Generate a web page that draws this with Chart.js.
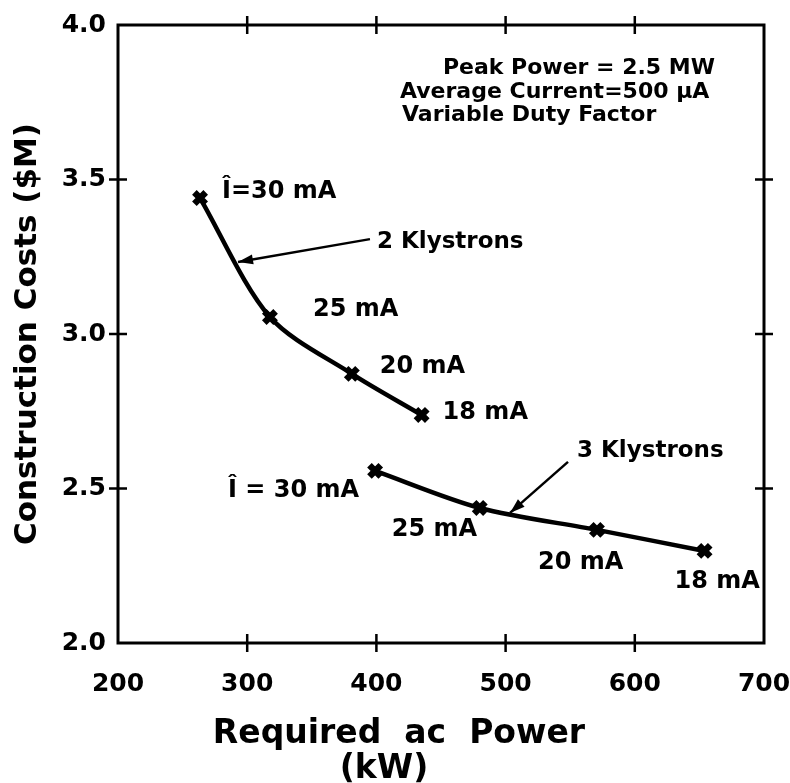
<!DOCTYPE html>
<html>
<head>
<meta charset="utf-8">
<script src="https://cdn.jsdelivr.net/npm/chart.js@4.4.1/dist/chart.umd.min.js"></script>
<style>
  html, body { margin: 0; padding: 0; background: #fff; }
  #wrap { width: 790px; height: 783px; }
</style>
</head>
<body>
<div id="wrap"><canvas id="chart" width="790" height="783"></canvas></div>
<script>
const twoKlyPower = [263.5, 317.6, 381, 435];
const twoKlyCost = [3.44, 3.055, 2.871, 2.738];
const twoKlyLabels = ['\u00CE=30 mA', '25 mA', '20 mA', '18 mA'];

const threeKlyPower = [399, 480, 570.7, 654];
const threeKlyCost = [2.557, 2.437, 2.366, 2.298];
const threeKlyLabels = ['\u00CE = 30 mA', '25 mA', '20 mA', '18 mA'];

const xTicks = [200, 300, 400, 500, 600, 700];
const yTicks = [2.0, 2.5, 3.0, 3.5, 4.0];

const noteLines = ['Peak Power = 2.5 MW', 'Average Current=500 \u00B5A', 'Variable Duty Factor'];
const seriesNames = ['2 Klystrons', '3 Klystrons'];
const xTitle = ['Required  ac  Power', '(kW)'];
const yTitle = 'Construction Costs ($M)';

const FONT = '"DejaVu Sans", sans-serif';

function toPoints(xs, ys) {
    let pts = [];
    for (let i = 0; i < xs.length; i++) pts.push({x: xs[i], y: ys[i]});
    return pts;
}

function drawArrow(c, x1, y1, x2, y2) {
    c.beginPath();
    c.moveTo(x1, y1);
    c.lineTo(x2, y2);
    c.stroke();
    let a = Math.atan2(y2 - y1, x2 - x1);
    let len = 15, w = 5;
    c.beginPath();
    c.moveTo(x2, y2);
    c.lineTo(x2 - len * Math.cos(a) + w * Math.sin(a), y2 - len * Math.sin(a) - w * Math.cos(a));
    c.lineTo(x2 - len * Math.cos(a) - w * Math.sin(a), y2 - len * Math.sin(a) + w * Math.cos(a));
    c.closePath();
    c.fill();
}

// frame with cross ticks, point labels, arrows and notes
const decor = {
    id: 'decor',
    afterDatasetsDraw(chart) {
        const c = chart.ctx, a = chart.chartArea;
        const xs = chart.scales.x, ys = chart.scales.y;
        c.save();
        c.strokeStyle = '#000';
        c.fillStyle = '#000';
        c.lineWidth = 3;
        c.strokeRect(a.left, a.top, a.right - a.left, a.bottom - a.top);

        c.lineWidth = 2.5;
        const tl = 9;
        xTicks.slice(1, -1).forEach(v => {
            let px = xs.getPixelForValue(v);
            c.beginPath();
            c.moveTo(px, a.bottom - tl); c.lineTo(px, a.bottom + tl);
            c.moveTo(px, a.top - tl); c.lineTo(px, a.top + tl);
            c.stroke();
        });
        yTicks.slice(1, -1).forEach(v => {
            let py = ys.getPixelForValue(v);
            c.beginPath();
            c.moveTo(a.left - tl, py); c.lineTo(a.left + tl, py);
            c.moveTo(a.right - tl, py); c.lineTo(a.right + tl, py);
            c.stroke();
        });

        // current labels next to each point
        c.font = 'bold 24px ' + FONT;
        c.textBaseline = 'middle';
        const off1 = [[22, -6], [43, -7], [28, -7], [21, -2]];
        twoKlyLabels.forEach((t, i) => {
            c.textAlign = 'left';
            c.fillText(t, xs.getPixelForValue(twoKlyPower[i]) + off1[i][0], ys.getPixelForValue(twoKlyCost[i]) + off1[i][1]);
        });
        const off2 = [[-16, 20], [-88, 22], [-59, 33], [-30, 31]];
        threeKlyLabels.forEach((t, i) => {
            c.textAlign = i === 0 ? 'right' : 'left';
            c.fillText(t, xs.getPixelForValue(threeKlyPower[i]) + off2[i][0], ys.getPixelForValue(threeKlyCost[i]) + off2[i][1]);
        });

        // series names with arrows
        c.font = 'bold 23px ' + FONT;
        c.textAlign = 'left';
        c.lineWidth = 2.5;
        let t1 = [xs.getPixelForValue(395), ys.getPixelForValue(3.307)];
        c.fillText(seriesNames[0], t1[0] + 7, t1[1] + 3);
        drawArrow(c, t1[0], t1[1], xs.getPixelForValue(292.9), ys.getPixelForValue(3.233));
        let t2 = [xs.getPixelForValue(548.3), ys.getPixelForValue(2.586)];
        c.fillText(seriesNames[1], t2[0] + 9, t2[1] - 11);
        drawArrow(c, t2[0], t2[1], xs.getPixelForValue(503.4), ys.getPixelForValue(2.421));

        // conditions note
        c.font = 'bold 22px ' + FONT;
        c.textBaseline = 'alphabetic';
        c.textAlign = 'right';
        c.fillText(noteLines[0], a.right - 49, a.top + 49);
        c.textAlign = 'left';
        c.fillText(noteLines[1], a.left + 282, a.top + 73);
        c.fillText(noteLines[2], a.left + 284, a.top + 96);

        // x axis title
        c.font = 'bold 33px ' + FONT;
        c.textAlign = 'center';
        c.fillText(xTitle[0], a.left + 281, a.bottom + 100);
        c.fillText(xTitle[1], a.left + 266, a.bottom + 135);
        c.restore();
    }
};

const ctx = document.getElementById('chart');

function lineSet(name, pts) {
    return {
        label: name,
        data: pts,
        borderColor: '#000',
        backgroundColor: '#000',
        borderWidth: 4.5,
        tension: 0.3,
        pointStyle: 'crossRot',
        pointRadius: 8,
        pointBorderWidth: 6.5,
        fill: false
    };
}

let myChart = new Chart(ctx, {
    type: 'line',
    data: {
        datasets: [
            lineSet(seriesNames[0], toPoints(twoKlyPower, twoKlyCost)),
            lineSet(seriesNames[1], toPoints(threeKlyPower, threeKlyCost))
        ]
    },
    options: {
        responsive: false,
        animation: false,
        layout: {padding: {top: 25, right: 26, left: 0, bottom: 0}},
        plugins: {legend: {display: false}, tooltip: {enabled: false}},
        scales: {
            x: {
                type: 'linear',
                min: 200,
                max: 700,
                afterFit: s => { s.height = 140; s.paddingLeft = 0; s.paddingRight = 0; },
                afterBuildTicks: s => { s.ticks = xTicks.map(v => ({value: v})); },
                grid: {display: false, drawTicks: false},
                border: {display: false},
                ticks: {color: '#000', font: {family: FONT, size: 25, weight: 'bold'}, padding: 26, maxRotation: 0}
            },
            y: {
                type: 'linear',
                min: 2,
                max: 4,
                afterFit: s => { s.width = 118; s.paddingTop = 0; s.paddingBottom = 0; },
                afterBuildTicks: s => { s.ticks = yTicks.map(v => ({value: v})); },
                grid: {display: false, drawTicks: false},
                border: {display: false},
                ticks: {color: '#000', font: {family: FONT, size: 25, weight: 'bold'}, padding: 12,
                        callback: v => Number(v).toFixed(1)},
                title: {display: true, text: yTitle, color: '#000',
                        font: {family: FONT, size: 31, weight: 'bold'}, padding: {top: 9, bottom: 0}}
            }
        }
    },
    plugins: [decor]
});
</script>
</body>
</html>
